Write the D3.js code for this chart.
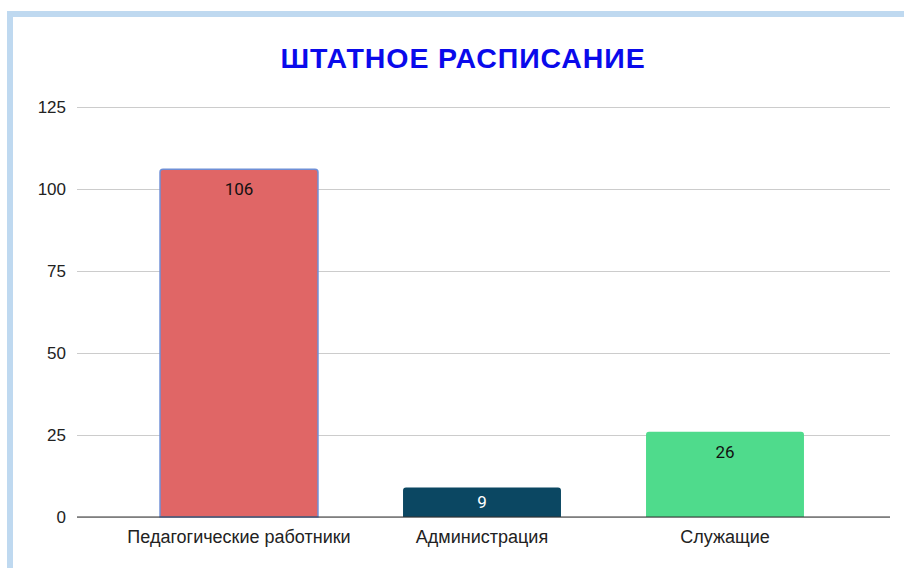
<!DOCTYPE html>
<html>
<head>
<meta charset="utf-8">
<script src="https://cdn.jsdelivr.net/npm/d3@7"></script>
<style>
	body { margin: 0; background: #fff; }
	svg { display: block; }
</style>
</head>
<body>
<svg class="chart" width="904" height="568"></svg>
<script>
/** DATA **/
let categories = ['Педагогические работники', 'Администрация', 'Служащие'];
let values = [106, 9, 26];
let barColors = ['#e06666', '#0b4762', '#4fdb8c'];
let labelColors = ['#111', '#fff', '#111'];
let yTicks = [0, 25, 50, 75, 100, 125];
let title = 'ШТАТНОЕ РАСПИСАНИЕ';

/** CONSTANTS **/
let margin = { top: 107, right: 14, bottom: 51, left: 77 };
let width = 904 - margin.left - margin.right;
let height = 568 - margin.top - margin.bottom;

let x = d3.scaleBand().domain(categories).range([40.5, 769.5]).paddingInner(0.35).paddingOuter(0.175);
let y = d3.scaleLinear().domain([0, 125]).range([height, 0]);

let svg = d3.select('.chart');

// light blue frame
svg.append('rect')
	.attr('x', 10).attr('y', 14)
	.attr('width', 904).attr('height', 568)
	.attr('fill', 'none')
	.attr('stroke', '#bfd9f0')
	.attr('stroke-width', 6);

svg.append('text')
	.attr('x', 463)
	.attr('y', 68)
	.attr('text-anchor', 'middle')
	.style('font', 'bold 28.5px "Liberation Sans", Arial, sans-serif')
	.style('letter-spacing', '0.9px')
	.style('fill', '#0a0aeb')
	.text(title);

let g = svg.append('g').attr('transform', 'translate(' + margin.left + ',' + margin.top + ')');

// gridlines + y labels
let yAxis = g.append('g')
	.call(d3.axisLeft(y).tickValues(yTicks).tickSize(-width).tickPadding(11));
yAxis.select('.domain').remove();
yAxis.selectAll('.tick line').attr('stroke', '#cccccc');
yAxis.selectAll('.tick text')
	.style('font', '17px "Liberation Sans", Arial, sans-serif')
	.style('fill', '#222');

// bars with rounded top corners
function barPath(d, i) {
	let x0 = x(categories[i]), w = x.bandwidth();
	let y0 = y(d), h = y(0) - y(d), r = 3;
	return 'M' + x0 + ',' + (y0 + h) +
		'V' + (y0 + r) + 'Q' + x0 + ',' + y0 + ' ' + (x0 + r) + ',' + y0 +
		'H' + (x0 + w - r) + 'Q' + (x0 + w) + ',' + y0 + ' ' + (x0 + w) + ',' + (y0 + r) +
		'V' + (y0 + h) + 'Z';
}

g.selectAll('.bar')
	.data(values)
	.enter()
	.append('path')
	.attr('class', 'bar')
	.attr('d', barPath)
	.attr('fill', function(d, i) { return barColors[i]; })
	.attr('stroke', function(d, i) { return i === 0 ? '#6f8fd6' : 'none'; })
	.attr('stroke-width', 1.5);

g.selectAll('.value')
	.data(values)
	.enter()
	.append('text')
	.attr('class', 'value')
	.attr('x', function(d, i) { return x(categories[i]) + x.bandwidth() / 2; })
	.attr('y', function(d) { return y(d) + Math.min(26, (y(0) - y(d)) / 2 + 6); })
	.attr('text-anchor', 'middle')
	.style('font', '17px Roboto, sans-serif')
	.style('fill', function(d, i) { return labelColors[i]; })
	.text(function(d) { return d; });

// x axis baseline
g.append('line')
	.attr('x1', 0).attr('x2', width)
	.attr('y1', y(0)).attr('y2', y(0))
	.attr('stroke', '#333');

g.selectAll('.cat')
	.data(categories)
	.enter()
	.append('text')
	.attr('class', 'cat')
	.attr('x', function(d) { return x(d) + x.bandwidth() / 2; })
	.attr('y', height + 26)
	.attr('text-anchor', 'middle')
	.style('font', '18px "Liberation Sans", Arial, sans-serif')
	.style('fill', '#222')
	.text(function(d) { return d; });
</script>
</body>
</html>
